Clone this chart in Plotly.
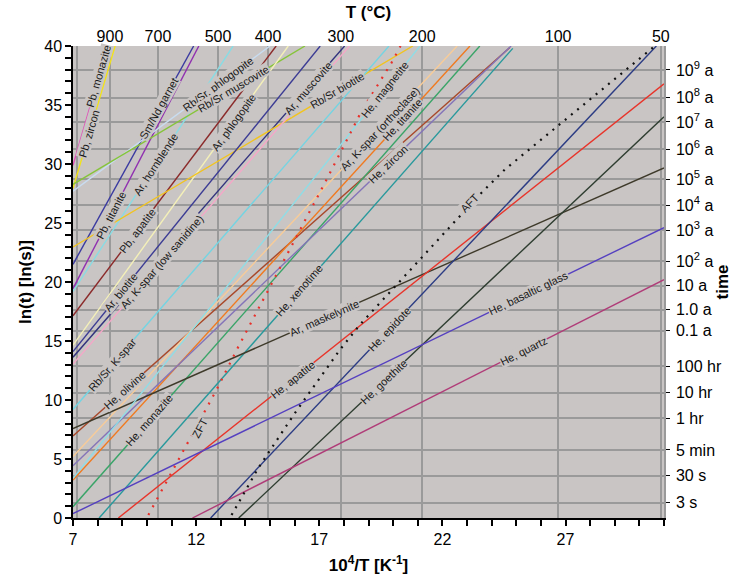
import numpy as np
import plotly.graph_objects as go

# ---------------- data ----------------
# straight Arrhenius lines: label, colour, start (x, ln t), end (x, ln t), x of the label
line_names = ["Pb, monazite", "Pb, zircon", "Sm/Nd garnet", "Pb, titanite", "Pb, apatite",
              "Ar, hornblende", "Rb/Sr, phlogopite", "Rb/Sr muscovite", "Ar, phlogopite",
              "Ar, muscovite", "Rb/Sr biotite", "Ar, K-spar (low sanidine)", "Ar, biotite",
              "Rb/Sr, K-spar", "He, olivine", "He, monazite", "He, titanite",
              "Ar, K-spar (orthoclase)", "He, zircon", "He, xenotime", "Ar, maskelynite",
              "He, apatite", "He, epidote", "He, goethite", "He, basaltic glass", "He, quartz",
              "He, magnetite"]
line_colors = ["#e050b8", "#f2e21a", "#3a3aa0", "#9030b0", "#8b2a2a",
               "#88dce4", "#c8dcf0", "#86c43a", "#f4f0b8",
               "#32327e", "#f2c41e", "#f4a8c8", "#3c3c94",
               "#74d4e2", "#a8482a", "#3aa468", "#f07a20",
               "#f8cc98", "#8474b8", "#28999c", "#3e3a2a",
               "#e8342a", "#2c3c84", "#2e3d30", "#5540c0", "#b03c78",
               "#8fdde6"]
x_start = [7.0, 7.0, 7.0, 7.0, 7.0,
           7.0, 7.0, 7.0, 7.0,
           7.0, 7.0, 7.0, 7.0,
           7.0, 7.0, 7.0, 7.0,
           7.0, 7.0, 8.06, 7.0,
           8.84, 12.59, 13.73, 7.0, 11.85,
           7.0]
y_start = [29.9, 27.95, 21.5, 19.44, 17.14,
           19.2, 27.7, 28.28, 14.65,
           13.63, 22.97, 13.04, 14.1,
           9.2, 6.96, 0.96, 3.22,
           5.21, 4.42, 0.0, 7.58,
           0.0, 0.0, 0.0, 0.37, 0.0,
           3.36]
x_end = [8.41, 8.71, 11.9, 12.11, 15.25,
         13.5, 15.0, 16.42, 15.74,
         18.03, 20.8, 18.23, 17.04,
         19.83, 24.74, 23.52, 23.12,
         22.6, 24.79, 24.86, 31.0,
         31.0, 30.69, 31.0, 31.0, 31.0,
         21.09]
y_end = [40.0, 40.0, 40.0, 40.0, 40.0,
         40.0, 40.0, 40.0, 40.0,
         40.0, 40.0, 40.0, 40.0,
         40.0, 39.87, 40.0, 40.0,
         40.0, 40.0, 39.8, 29.66,
         36.8, 40.0, 34.0, 24.6, 20.2,
         40.0]
label_x = [8.05, 7.65, 10.5, 8.55, 9.6,
           10.37, 12.9, 13.5, 13.5,
           16.55, 17.76, 10.6, 8.95,
           8.58, 9.1, 10.1, 20.4,
           19.45, 19.8, 16.2, 17.2,
           15.9, 19.85, 19.6, 25.5, 25.3,
           19.65]

# curved fission-track annealing lines (read point by point)
aft_x = [13.44, 14.52, 16.01, 17.84, 18.65, 23.52, 24.54, 30.63]
aft_y = [0.25, 4.22, 8.89, 14.26, 16.38, 27.42, 29.54, 40.0]
zft_x = [10.06, 12.83, 13.65, 16.83, 17.23, 18.72, 19.94, 20.3]
zft_y = [0.25, 10.87, 14.26, 26.85, 28.41, 34.49, 38.6, 40.0]

# top axis: temperatures (deg C) and where their grid lines sit on the 10^4/T scale
temp_labels = ["", "900", "700", "500", "400", "300", "200", "100", "50"]
temp_pos = [7.16, 8.50, 10.45, 12.89, 14.92, 17.88, 21.18, 26.70, 30.87]

# right axis: time marks and their ln(t) positions
time_labels = ["3 s", "30 s", "5 min", "1 hr", "10 hr", "100 hr", "0.1 a", "1.0 a", "10 a",
               "10<sup>2</sup> a", "10<sup>3</sup> a", "10<sup>4</sup> a", "10<sup>5</sup> a",
               "10<sup>6</sup> a", "10<sup>7</sup> a", "10<sup>8</sup> a", "10<sup>9</sup> a"]
time_pos = [1.30, 3.57, 5.77, 8.46, 10.62, 12.84, 15.87, 17.66, 19.69,
            21.76, 24.39, 26.49, 28.69, 31.24, 33.56, 35.63, 37.97]

# ---------------- layout geometry ----------------
W, H = 732, 580
ML, MR, MT, MB = 73, 68, 46, 62
XR = [7, 31]
YR = [0, 40]
px_x = (W - ML - MR) / (XR[1] - XR[0])
px_y = (H - MT - MB) / (YR[1] - YR[0])
BG = "#c9c5c4"
GRID = "#9a9a9a"
FONT = "Liberation Sans, Arial, sans-serif"

fig = go.Figure()

for name, col, xa, ya, xb, yb in zip(line_names, line_colors, x_start, y_start, x_end, y_end):
    fig.add_trace(go.Scatter(x=[xa, xb], y=[ya, yb], mode="lines",
                             line=dict(color=col, width=1.4), hoverinfo="skip",
                             showlegend=False))

fig.add_trace(go.Scatter(x=aft_x, y=aft_y, mode="lines",
                         line=dict(color="#111111", width=2.2, dash="2px,6px"),
                         showlegend=False, hoverinfo="skip"))
fig.add_trace(go.Scatter(x=zft_x, y=zft_y, mode="lines",
                         line=dict(color="#e8302a", width=2.2, dash="2px,7px"),
                         showlegend=False, hoverinfo="skip"))

# invisible trace so the secondary axes get drawn
fig.add_trace(go.Scatter(x=XR, y=YR, xaxis="x2", yaxis="y2", mode="markers",
                         marker=dict(opacity=0), showlegend=False, hoverinfo="skip"))

annotations = []


def add_label(text, x, y, slope):
    ang = -np.degrees(np.arctan(slope * px_y / px_x))
    annotations.append(dict(x=x, y=y, xref="x", yref="y", text=text, showarrow=False,
                            textangle=ang, font=dict(family=FONT, size=11, color="#1a1a1a"),
                            bgcolor=BG, borderpad=0))


for name, xa, ya, xb, yb, lx in zip(line_names, x_start, y_start, x_end, y_end, label_x):
    if not name or lx is None:
        continue
    s = (yb - ya) / (xb - xa)
    add_label(name, lx, ya + s * (lx - xa), s)

add_label("AFT", 23.1, 26.7, 2.2)
add_label("ZFT", 12.16, 7.6, 3.9)

fig.update_layout(annotations=annotations)

fig.update_layout(
    width=W, height=H,
    margin=dict(l=ML, r=MR, t=MT, b=MB, autoexpand=False),
    paper_bgcolor="white", plot_bgcolor=BG,
    font=dict(family=FONT, color="black"),
    xaxis=dict(range=XR, tickvals=[7, 12, 17, 22, 27], ticks="outside", ticklen=6, tickwidth=1.5,
               tickcolor="black", showgrid=False, zeroline=False, showline=True, linecolor="black",
               linewidth=1.5, tickfont=dict(size=16), automargin=False,
               minor=dict(dtick=1, tick0=7, ticks="outside", ticklen=6, tickcolor="black", showgrid=False),
               title=dict(text="<b>10<sup>4</sup>/T [K<sup>-1</sup>]</b>", font=dict(size=17), standoff=12)),
    yaxis=dict(range=YR, tickvals=list(range(0, 41, 5)), ticks="outside", ticklen=6, tickwidth=1.5,
               tickcolor="black", showgrid=False, zeroline=False, showline=True, linecolor="black",
               linewidth=1.5, tickfont=dict(size=16), automargin=False,
               minor=dict(dtick=1, tick0=0, ticks="outside", ticklen=6, tickcolor="black", showgrid=False),
               title=dict(text="<b>ln(t) [ln(s)]</b>", font=dict(size=17), standoff=8)),
    xaxis2=dict(range=XR, overlaying="x", side="top", anchor="y",
                tickvals=temp_pos, ticktext=temp_labels, automargin=False,
                ticks="", showgrid=True, gridcolor=GRID, gridwidth=1.5, zeroline=False,
                tickfont=dict(size=16), showline=False,
                title=dict(text="<b>T (°C)</b>", font=dict(size=17), standoff=4)),
    yaxis2=dict(range=YR, overlaying="y", side="right", anchor="x",
                tickvals=time_pos, ticktext=time_labels, automargin=False,
                ticks="outside", ticklen=4, tickcolor="black", showgrid=True, gridcolor=GRID,
                gridwidth=1.5, zeroline=False, tickfont=dict(size=16), showline=True,
                linecolor=GRID, linewidth=1.5, ticklabelstandoff=3,
                title=dict(text="<b>time</b>", font=dict(size=17), standoff=6)),
)

fig.write_html("out.html")
